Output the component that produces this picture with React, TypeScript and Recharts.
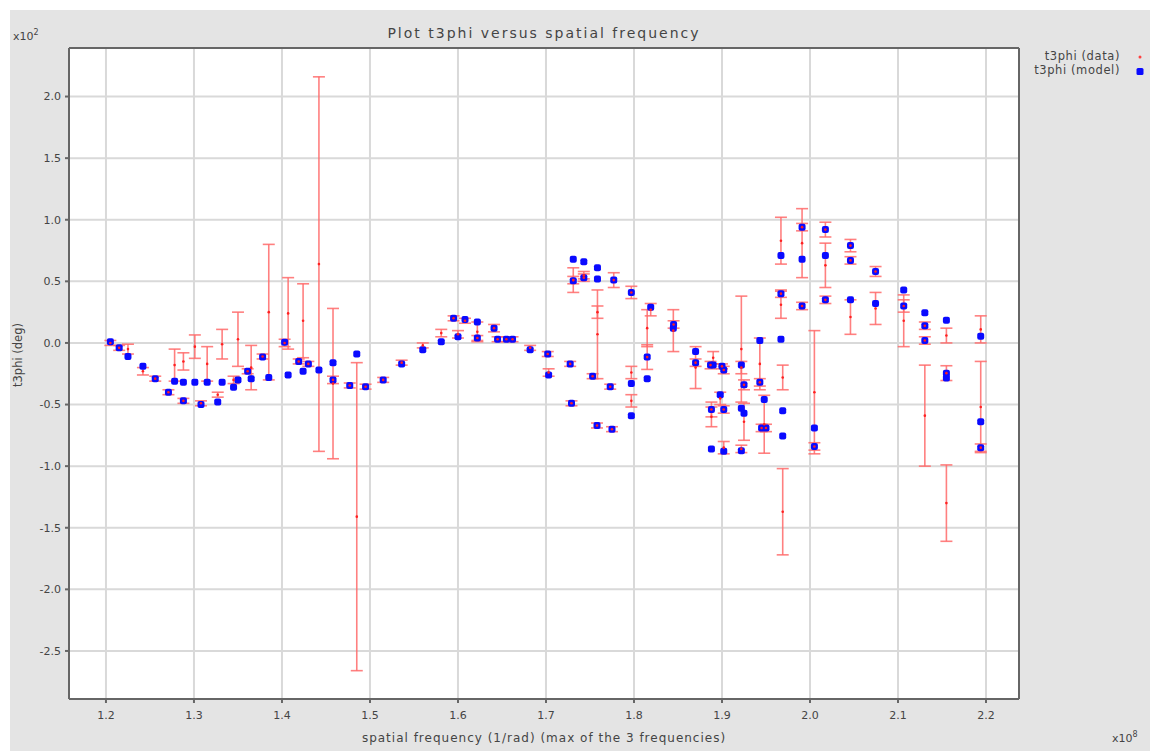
import React from 'react';
import { ScatterChart, Scatter, XAxis, YAxis, CartesianGrid, ErrorBar } from 'recharts';

// spatial frequency (x10^8 1/rad)
const freq = [
  1.205, 1.215, 1.225, 1.242, 1.256, 1.271, 1.278, 1.288, 1.288, 1.301,
  1.308, 1.315, 1.327, 1.332, 1.345, 1.35, 1.361, 1.365, 1.378, 1.385,
  1.403, 1.407, 1.419, 1.424, 1.43, 1.442, 1.458, 1.458, 1.477, 1.485,
  1.495, 1.515, 1.536, 1.56, 1.581, 1.595, 1.6, 1.608, 1.622, 1.622,
  1.641, 1.645, 1.655, 1.662, 1.682, 1.702, 1.703, 1.7275, 1.729, 1.731,
  1.731, 1.743, 1.743, 1.753, 1.7585, 1.7585, 1.758, 1.773, 1.775, 1.777,
  1.797, 1.797, 1.797, 1.815, 1.815, 1.819, 1.8447, 1.845, 1.87, 1.87,
  1.887, 1.888, 1.888, 1.89, 1.898, 1.9, 1.902, 1.902, 1.902, 1.922,
  1.922, 1.925, 1.925, 1.922, 1.943, 1.943, 1.948, 1.945, 1.95, 1.967,
  1.967, 1.967, 1.969, 1.969, 1.991, 1.991, 1.991, 2.005, 2.005, 2.0175,
  2.0175, 2.0175, 2.046, 2.046, 2.046, 2.0745, 2.0745, 2.1065, 2.1065, 2.1305,
  2.1305, 2.1305, 2.155, 2.155, 2.155, 2.194, 2.194, 2.194,
];

// t3phi data (x10^2 deg)
const t3Data = [
  0.0, -0.04, -0.05, -0.23, -0.29, -0.4, -0.18, -0.47, -0.15, -0.03,
  -0.49, -0.17, -0.42, -0.01, -0.3, 0.03, -0.23, -0.2, -0.11, 0.25,
  0.0, 0.24, -0.15, 0.18, -0.17, 0.64, -0.33, -0.3, -0.345, -1.41,
  -0.355, -0.3, -0.16, -0.02, 0.08, 0.2, 0.07, 0.18, 0.09, 0.04,
  0.12, 0.03, 0.03, 0.03, -0.04, -0.09, -0.24, -0.17, -0.49, 0.51,
  0.51, 0.53, 0.55, -0.27, 0.07, 0.25, -0.67, -0.355, -0.7, 0.51,
  0.41, -0.24, -0.47, -0.115, 0.12, 0.27, 0.1, 0.15, -0.2, -0.16,
  -0.18, -0.54, -0.6, -0.12, -0.45, -0.19, -0.54, -0.85, -0.22, -0.05,
  -0.2, -0.64, -0.34, -0.86, -0.17, -0.32, -0.66, -0.69, -0.69, 0.83,
  0.4, 0.31, -0.28, -1.37, 0.94, 0.81, 0.3, -0.4, -0.84, 0.92,
  0.63, 0.35, 0.79, 0.67, 0.21, 0.58, 0.28, 0.3, 0.18, 0.14,
  0.02, -0.59, 0.06, -0.245, -1.3, 0.11, -0.52, -0.85,
];

// t3phi error (x10^2 deg)
const t3Err = [
  0.02, 0.02, 0.04, 0.03, 0.02, 0.02, 0.13, 0.02, 0.07, 0.095,
  0.02, 0.14, 0.02, 0.12, 0.03, 0.22, 0.02, 0.18, 0.02, 0.55,
  0.03, 0.29, 0.02, 0.3, 0.02, 1.52, 0.61, 0.03, 0.02, 1.25,
  0.02, 0.02, 0.02, 0.02, 0.03, 0.02, 0.03, 0.02, 0.08, 0.02,
  0.03, 0.02, 0.02, 0.02, 0.02, 0.02, 0.03, 0.02, 0.02, 0.1,
  0.03, 0.03, 0.03, 0.02, 0.36, 0.05, 0.02, 0.02, 0.02, 0.06,
  0.05, 0.05, 0.05, 0.1, 0.15, 0.05, 0.17, 0.03, 0.17, 0.03,
  0.03, 0.06, 0.08, 0.05, 0.05, 0.02, 0.03, 0.05, 0.03, 0.43,
  0.05, 0.15, 0.04, 0.03, 0.21, 0.03, 0.235, 0.03, 0.03, 0.19,
  0.03, 0.11, 0.1, 0.35, 0.03, 0.28, 0.03, 0.5, 0.03, 0.06,
  0.18, 0.03, 0.05, 0.03, 0.14, 0.04, 0.13, 0.05, 0.21, 0.03,
  0.03, 0.41, 0.06, 0.06, 0.31, 0.11, 0.37, 0.03,
];

// t3phi model (x10^2 deg)
const t3Model = [
  0.01, -0.04, -0.11, -0.19, -0.29, -0.4, -0.31, -0.47, -0.32, -0.32,
  -0.5, -0.32, -0.48, -0.32, -0.36, -0.3, -0.23, -0.29, -0.115, -0.28,
  0.005, -0.26, -0.15, -0.23, -0.17, -0.22, -0.16, -0.3, -0.345, -0.09,
  -0.355, -0.3, -0.17, -0.055, 0.01, 0.2, 0.05, 0.19, 0.17, 0.04,
  0.12, 0.03, 0.03, 0.03, -0.055, -0.09, -0.26, -0.17, -0.49, 0.68,
  0.505, 0.53, 0.66, -0.27, 0.61, 0.52, -0.67, -0.355, -0.7, 0.51,
  0.41, -0.33, -0.59, -0.29, -0.115, 0.29, 0.12, 0.15, -0.07, -0.16,
  -0.18, -0.54, -0.86, -0.18, -0.42, -0.19, -0.54, -0.88, -0.22, -0.18,
  -0.53, -0.57, -0.34, -0.875, 0.02, -0.32, -0.46, -0.69, -0.69, 0.71,
  0.4, 0.03, -0.55, -0.755, 0.94, 0.68, 0.3, -0.69, -0.84, 0.92,
  0.71, 0.35, 0.79, 0.67, 0.35, 0.58, 0.32, 0.43, 0.3, 0.245,
  0.02, 0.14, 0.185, -0.245, -0.285, 0.055, -0.64, -0.85,
];

const xTicks = [1.2, 1.3, 1.4, 1.5, 1.6, 1.7, 1.8, 1.9, 2.0, 2.1, 2.2];
const yTicks = [-2.5, -2.0, -1.5, -1.0, -0.5, 0.0, 0.5, 1.0, 1.5, 2.0];

const dataPts = freq.map((f, i) => ({ x: f, y: t3Data[i], err: t3Err[i] }));
const modelPts = freq.map((f, i) => ({ x: f, y: t3Model[i] }));

const FONT = '"DejaVu Sans", sans-serif';
const TXT = '#444';

const RedDot = (p: any) => <circle cx={p.cx} cy={p.cy} r={1.3} fill="#ff2020" />;
const BlueSq = (p: any) => (
  <rect x={p.cx - 3.5} y={p.cy - 3.5} width={7} height={7} rx={2} fill="#0a0aff" />
);

export default function App() {
  return (
    <div style={{ position: 'absolute', left: 10, top: 10, width: 1140, height: 741, background: '#e4e4e4', fontFamily: FONT, color: TXT }}>
      <ScatterChart width={1140} height={741} margin={{ top: 38, right: 131, bottom: 22, left: 19 }}>
        <CartesianGrid
          xAxisId="b"
          yAxisId="l"
          stroke="#d9d9d9"
          strokeWidth={2}
          fill="#ffffff"
          fillOpacity={1}
        />
        <XAxis
          xAxisId="b"
          type="number"
          dataKey="x"
          domain={[1.158, 2.2375]}
          ticks={xTicks}
          tickFormatter={(v: number) => v.toFixed(1)}
          height={30}
          stroke="#666"
          strokeWidth={2}
          tick={{ fill: TXT, fontSize: 11, fontFamily: FONT }}
          tickSize={4}
          tickMargin={8}
          allowDataOverflow
        />
        <XAxis
          xAxisId="t"
          orientation="top"
          type="number"
          dataKey="x"
          domain={[1.158, 2.2375]}
          ticks={xTicks}
          mirror
          tick={false}
          stroke="#666"
          strokeWidth={2}
          tickSize={4}
          allowDataOverflow
        />
        <YAxis
          yAxisId="l"
          type="number"
          dataKey="y"
          domain={[-2.89, 2.394]}
          ticks={yTicks}
          tickFormatter={(v: number) => v.toFixed(1)}
          width={40}
          stroke="#666"
          strokeWidth={2}
          tick={{ fill: TXT, fontSize: 11, fontFamily: FONT }}
          tickSize={4}
          tickMargin={4}
          allowDataOverflow
        />
        <YAxis
          yAxisId="r"
          orientation="right"
          type="number"
          dataKey="y"
          domain={[-2.89, 2.394]}
          ticks={yTicks}
          mirror
          tick={false}
          stroke="#666"
          strokeWidth={2}
          tickSize={4}
          allowDataOverflow
        />
        <Scatter
          name="t3phi (model)"
          data={modelPts}
          xAxisId="b"
          yAxisId="l"
          shape={BlueSq}
          isAnimationActive={false}
        />
        <Scatter
          name="t3phi (data)"
          data={dataPts}
          xAxisId="b"
          yAxisId="l"
          shape={RedDot}
          isAnimationActive={false}
        >
          <ErrorBar dataKey="err" direction="y" width={6} stroke="#ff6a6a" strokeWidth={1.6} strokeOpacity={0.85} isAnimationActive={false} />
        </Scatter>
      </ScatterChart>

      <div style={{ position: 'absolute', left: 3, top: 18, fontSize: 11 }}>
        x10<sup style={{ fontSize: 8 }}>2</sup>
      </div>
      <div style={{ position: 'absolute', left: 59, width: 950, top: 15, textAlign: 'center', fontSize: 14, letterSpacing: 2 }}>
        Plot t3phi versus spatial frequency
      </div>
      <div style={{ position: 'absolute', right: 30, top: 39, fontSize: 11.5, textAlign: 'right', lineHeight: '14px', letterSpacing: 0.6 }}>
        <div>t3phi (data)</div>
        <div>t3phi (model)</div>
      </div>
      <svg style={{ position: 'absolute', left: 1120, top: 39 }} width={20} height={30}>
        <circle cx={10} cy={8} r={1.5} fill="#ff4040" />
        <rect x={6.5} y={19} width={7} height={7} rx={1.5} fill="#0a0aff" />
      </svg>
      <div style={{ position: 'absolute', left: 8, top: 345, fontSize: 11.5, transform: 'translate(-50%, -50%) rotate(-90deg)', whiteSpace: 'nowrap' }}>
        t3phi (deg)
      </div>
      <div style={{ position: 'absolute', left: 59, width: 950, top: 721, textAlign: 'center', fontSize: 12, letterSpacing: 1 }}>
        spatial frequency (1/rad) (max of the 3 frequencies)
      </div>
      <div style={{ position: 'absolute', left: 1102, top: 720, fontSize: 11 }}>
        x10<sup style={{ fontSize: 8 }}>8</sup>
      </div>
    </div>
  );
}
